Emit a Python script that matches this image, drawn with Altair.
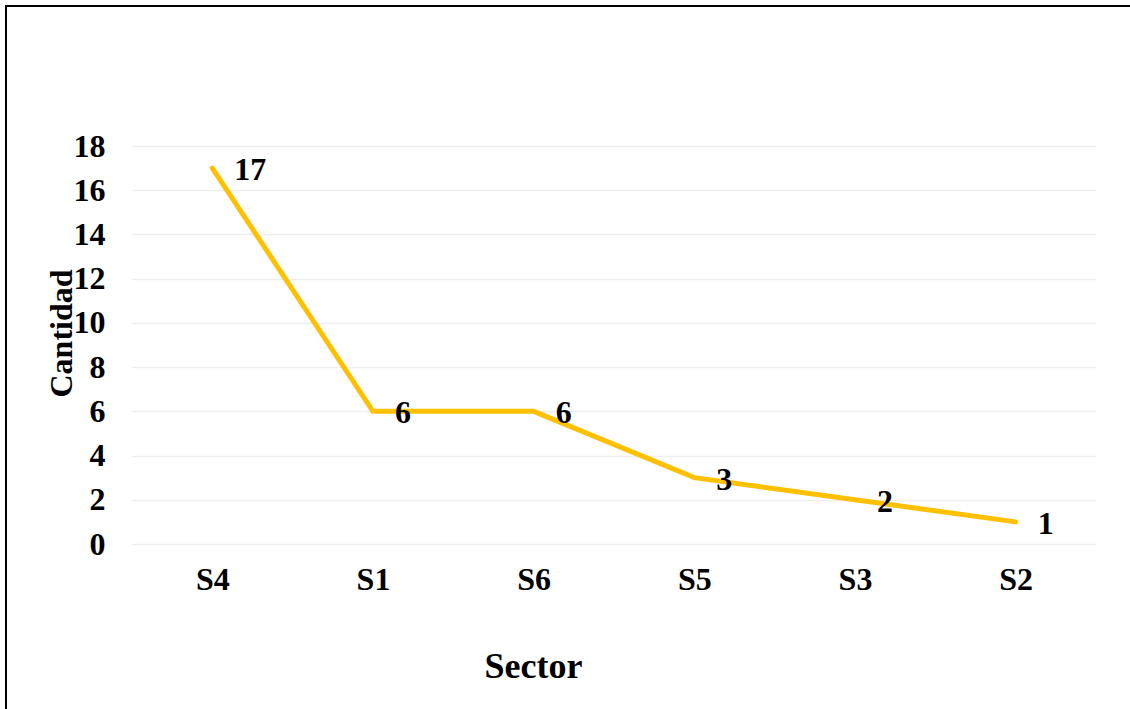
import altair as alt
import pandas as pd

sectors = ["S4", "S1", "S6", "S5", "S3", "S2"]
cantidad = [17, 6, 6, 3, 2, 1]

df = pd.DataFrame({"Sector": sectors, "Cantidad": cantidad})

FONT = "Liberation Serif"

x_enc = alt.X(
    "Sector:N",
    sort=sectors,
    axis=alt.Axis(
        title="Sector",
        labelAngle=0,
        labelFontSize=32,
        labelFont=FONT,
        labelFontWeight="bold",
        labelColor="#000000",
        labelPadding=20,
        ticks=False,
        domain=False,
        grid=False,
        titleFontSize=36,
        titleFont=FONT,
        titleFontWeight="bold",
        titleColor="#000000",
        titleX=401,
        titleY=133,
        titleBaseline="alphabetic",
        titleAlign="center",
    ),
)

y_enc = alt.Y(
    "Cantidad:Q",
    scale=alt.Scale(domain=[0, 18], nice=False),
    axis=alt.Axis(
        title="Cantidad",
        values=[0, 2, 4, 6, 8, 10, 12, 14, 16, 18],
        labelFontSize=32,
        labelFont=FONT,
        labelFontWeight="bold",
        labelColor="#000000",
        labelPadding=27,
        ticks=False,
        domain=False,
        gridColor="#eeeeee",
        gridWidth=1.5,
        titleFontSize=32,
        titleFont=FONT,
        titleFontWeight="bold",
        titleColor="#000000",
        titleX=-61,
        titleY=187,
        titleAngle=270,
        titleBaseline="alphabetic",
        titleAlign="center",
    ),
)

line = alt.Chart(df).mark_line(
    color="#FFC000", strokeWidth=5, strokeCap="round"
).encode(x=x_enc, y=y_enc)

labels = alt.Chart(df).mark_text(
    align="left", baseline="middle", dx=22, dy=2,
    font=FONT, fontSize=32, fontWeight="bold", color="#000000"
).encode(
    x=alt.X("Sector:N", sort=sectors),
    y=alt.Y("Cantidad:Q"),
    text="Cantidad:Q",
)

border_top = alt.Chart(df).mark_rule(color="#000000", strokeWidth=2).encode(
    x=alt.value(-126), x2=alt.value(1000), y=alt.value(-140)
)
border_left = alt.Chart(df).mark_rule(color="#000000", strokeWidth=2).encode(
    x=alt.value(-126), y=alt.value(-141), y2=alt.value(600)
)

chart = alt.layer(line, labels, border_top, border_left).properties(
    width=964,
    height=398,
    autosize=alt.AutoSizeParams(type="none"),
    padding={"left": 132, "top": 146, "right": 34, "bottom": 165},
    background="#ffffff",
).configure_view(stroke=None)

chart.save("out.html", embed_options={"renderer": "svg", "actions": False})
